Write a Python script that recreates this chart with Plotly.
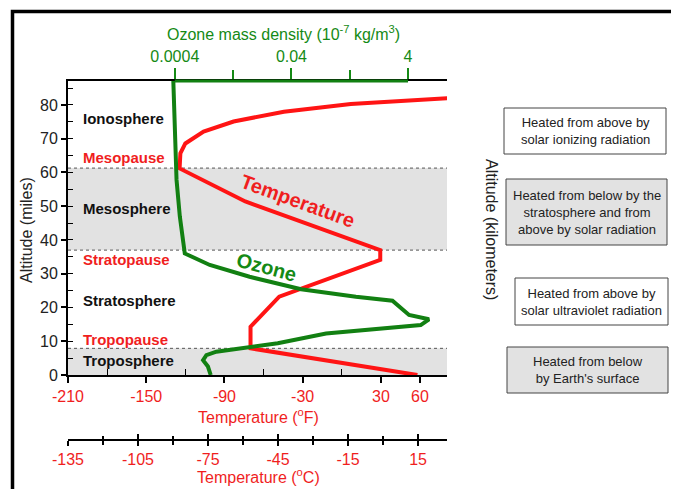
import plotly.graph_objects as go

# ---------------- data ----------------
temp_alt_mi = [0, 7.9, 14.3, 23.2, 34.1, 37.0, 51.4, 61.2, 65.7, 68.6, 72.1, 75.1, 78.0, 80.3, 82.0]
temp_f = [58, -70, -70, -48, 29.5, 29.5, -74, -124.4, -123.8, -120, -106, -83, -44.4, 6.9, 81.3]

ozone_alt_mi = [0, 2.5, 4.4, 5.9, 6.9, 8.4, 9.4, 12.3, 14.8, 16.5, 17.8, 22.0, 23.2, 25.4, 29.1, 32.6, 36.0, 47.0, 57.8, 87.1]
ozone_density = [0.00165, 0.00148, 0.00122, 0.00139, 0.00206, 0.00766, 0.0233, 0.157, 6.59, 9.14, 4.16, 2.16,
                 0.511, 0.0586, 0.00766, 0.00159, 0.000593, 0.000487, 0.000428, 0.000377]

f_ticks = [-210, -150, -90, -30, 30, 60]
f_minor = [-180, -120, -60, 0]
c_ticks = [-135, -105, -75, -45, -15, 15]
c_minor = [-120, -90, -60, -30, 0]
mi_ticks = [0, 10, 20, 30, 40, 50, 60, 70, 80]
km_ticks = [0, 20, 40, 60, 80, 100, 120]
oz_ticks = [0.0004, 0.04, 4]
oz_ticktext = ["0.0004", "0.04", "4"]
oz_minor = [0.004, 0.4]

tropopause_mi = 7.9
stratopause_mi = 37.0
mesopause_mi = 61.3
alt_top_mi = 87.1

layers = ["Ionosphere", "Mesosphere", "Stratosphere", "Troposphere"]
pauses = ["Mesopause", "Stratopause", "Tropopause"]
box_texts = ["Heated from above by<br>solar ionizing radiation",
             "Heated from below by the<br>stratosphere and from<br>above by solar radiation",
             "Heated from above by<br>solar ultraviolet radiation",
             "Heated from below<br>by Earth's surface"]

temp_c = [(t - 32) / 1.8 for t in temp_f]

RED = "#f01e1e"
GREEN = "#158a15"
LINE_GREEN = "#128012"
GRAY_BAND = "#e2e2e2"
FONT = "Liberation Sans, Arial, sans-serif"

# the page body adds an 8px margin; reference pixel coords are shifted by OFF
OFF = 8
W, H = 679 - OFF, 489 - OFF
PLOT_L, PLOT_R, PLOT_T, PLOT_B, PAPER_B = 68, 447, 81, 375, 445   # reference pixels
ML, MT = PLOT_L - OFF, PLOT_T - OFF
MR = W - (PLOT_R - OFF)
MB = H - (PAPER_B - OFF)
PW, PH = W - ML - MR, H - MT - MB


def px(x):
    return (x - PLOT_L) / PW


def py(y):
    return (PAPER_B - y) / PH


def labels(vals):
    return [str(v) for v in vals]


fig = go.Figure()

fig.add_trace(go.Scatter(x=temp_f, y=temp_alt_mi, mode="lines", xaxis="x", yaxis="y",
                         line=dict(color="#ff1414", width=4), showlegend=False, hoverinfo="skip"))
fig.add_trace(go.Scatter(x=ozone_density, y=ozone_alt_mi, mode="lines", xaxis="x2", yaxis="y",
                         line=dict(color=LINE_GREEN, width=4), showlegend=False, hoverinfo="skip"))
# invisible traces so the Celsius axes get drawn
for xa in ["x3", "x4"]:
    fig.add_trace(go.Scatter(x=temp_c, y=temp_alt_mi, mode="lines", xaxis=xa, yaxis="y",
                             line=dict(color="rgba(0,0,0,0)", width=0), showlegend=False, hoverinfo="skip"))

shapes = []
for y0, y1 in [(0, tropopause_mi), (stratopause_mi, mesopause_mi)]:
    shapes.append(dict(type="rect", xref="paper", yref="y", x0=0, x1=1, y0=y0, y1=y1,
                       fillcolor=GRAY_BAND, line=dict(width=0), layer="below"))
for yb in [tropopause_mi, stratopause_mi, mesopause_mi]:
    shapes.append(dict(type="line", xref="paper", yref="y", x0=0, x1=1, y0=yb, y1=yb,
                       line=dict(color="#555555", width=1, dash="dot"), layer="below"))
shapes.append(dict(type="line", xref="x2", yref="paper", x0=oz_ticks[0], x1=oz_ticks[-1], y0=1, y1=1,
                   line=dict(color=LINE_GREEN, width=3)))
shapes.append(dict(type="rect", xref="paper", yref="paper", x0=px(12.5), x1=px(675), y0=py(11.5), y1=py(500),
                   line=dict(color="black", width=3.5), fillcolor="rgba(0,0,0,0)"))
boxes = [(504, 666, 108, 154, "white"), (506, 667, 179, 245, GRAY_BAND),
         (515, 668, 278, 325, "white"), (507, 668, 347, 393, GRAY_BAND)]
for x0, x1, y0, y1, fc in boxes:
    shapes.append(dict(type="rect", xref="paper", yref="paper", x0=px(x0), x1=px(x1), y0=py(y0), y1=py(y1),
                       fillcolor=fc, line=dict(color="#444444", width=1)))

ann = []


def add_text(text, x, y, size=16, color="#222222", angle=0, xanchor="center", bold=False):
    ann.append(dict(text=("<b>%s</b>" % text) if bold else text, x=px(x), y=py(y), xref="paper", yref="paper",
                    showarrow=False, textangle=angle, xanchor=xanchor, yanchor="middle",
                    font=dict(family=FONT, size=size, color=color)))


add_text("Ozone mass density (10<sup>-7</sup> kg/m<sup>3</sup>)", 283, 33, color=GREEN)
add_text("Altitude (miles)", 26, 230, angle=-90)
add_text("Altitude (kilometers)", 492, 229, angle=90)
add_text("Temperature (<sup>o</sup>F)", 258, 416, color=RED)
add_text("Temperature (<sup>o</sup>C)", 258, 476, color=RED)

for name, yc in zip(layers, [118, 208, 300, 360]):
    add_text(name, 81, yc, size=15, color="#111111", xanchor="left", bold=True)
for name, yc in zip(pauses, [157, 259, 339]):
    add_text(name, 81, yc, size=15, color=RED, xanchor="left", bold=True)

add_text("<b>Temperature</b>", 298, 201, size=20, color=RED, angle=20)
add_text("<b>Ozone</b>", 266, 267, size=20, color=GREEN, angle=15)

for (x0, x1, y0, y1, fc), t in zip(boxes, box_texts):
    add_text(t, (x0 + x1) / 2, (y0 + y1) / 2, size=13, color="#222222")

ydom0 = py(PLOT_B)
tickfont_k = dict(family=FONT, size=16, color="#222222")
tickfont_r = dict(family=FONT, size=16, color=RED)

fig.update_layout(
    width=W, height=H, margin=dict(l=ML, r=MR, t=MT, b=MB),
    paper_bgcolor="white", plot_bgcolor="white", showlegend=False,
    shapes=shapes, annotations=ann,
    xaxis=dict(domain=[0, 1], range=[-210, 80.7], anchor="y", side="bottom",
               showline=True, linecolor="black", linewidth=2, showgrid=False, zeroline=False,
               tickmode="array", tickvals=f_ticks, ticktext=labels(f_ticks), ticks="outside",
               ticklen=6, tickwidth=1.5, tickcolor="black", tickfont=tickfont_r,
               minor=dict(tickmode="array", tickvals=f_minor, ticks="inside", ticklen=6,
                          tickcolor="black", tickwidth=1)),
    xaxis2=dict(type="log", range=[-5.230, 1.270], overlaying="x", anchor="y", side="top",
                showline=True, linecolor="black", linewidth=2, showgrid=False, zeroline=False,
                tickmode="array", tickvals=oz_ticks, ticktext=oz_ticktext, ticks="outside",
                ticklen=11, tickwidth=1.5, tickcolor=GREEN,
                tickfont=dict(family=FONT, size=16, color=GREEN),
                minor=dict(tickmode="array", tickvals=oz_minor, ticks="outside", ticklen=9,
                           tickcolor=GREEN, tickwidth=1.5)),
    xaxis3=dict(range=[-135, 27.4], overlaying="x", anchor="free", position=py(440), side="bottom",
                showline=True, linecolor="black", linewidth=1.5, showgrid=False, zeroline=False,
                tickmode="array", tickvals=c_ticks, ticktext=labels(c_ticks), ticks="outside",
                ticklen=5, tickwidth=1.5, tickcolor="black", tickfont=tickfont_r,
                minor=dict(tickmode="array", tickvals=c_minor, ticks="outside", ticklen=4,
                           tickcolor="black", tickwidth=1.5)),
    xaxis4=dict(range=[-135, 27.4], overlaying="x", anchor="free", position=py(440), side="bottom",
                showline=False, showgrid=False, zeroline=False, showticklabels=False,
                tickmode="array", tickvals=c_ticks, ticks="inside", ticklen=6, tickwidth=1.5,
                tickcolor="black",
                minor=dict(tickmode="array", tickvals=c_minor, ticks="inside", ticklen=4,
                           tickcolor="black", tickwidth=1.5)),
    yaxis=dict(domain=[ydom0, 1], range=[0, alt_top_mi], anchor="x",
               showline=True, linecolor="black", linewidth=2, showgrid=False, zeroline=False,
               tickmode="array", tickvals=mi_ticks, ticks="outside", ticklen=5, tickwidth=1.5,
               tickcolor="black", tickfont=tickfont_k,
               minor=dict(dtick=5, tick0=0, ticks="inside", ticklen=5, tickcolor="black", tickwidth=1)),
    yaxis2=dict(range=[0, alt_top_mi * 1.60934], overlaying="y", anchor="x", side="right",
                showline=True, linecolor="black", linewidth=2, showgrid=False, zeroline=False,
                tickmode="array", tickvals=km_ticks, ticks="outside", ticklen=5, tickwidth=1.5,
                tickcolor="black", tickfont=tickfont_k,
                minor=dict(dtick=10, tick0=0, ticks="inside", ticklen=5, tickcolor="black", tickwidth=1)),
)

fig.write_html("out.html")
